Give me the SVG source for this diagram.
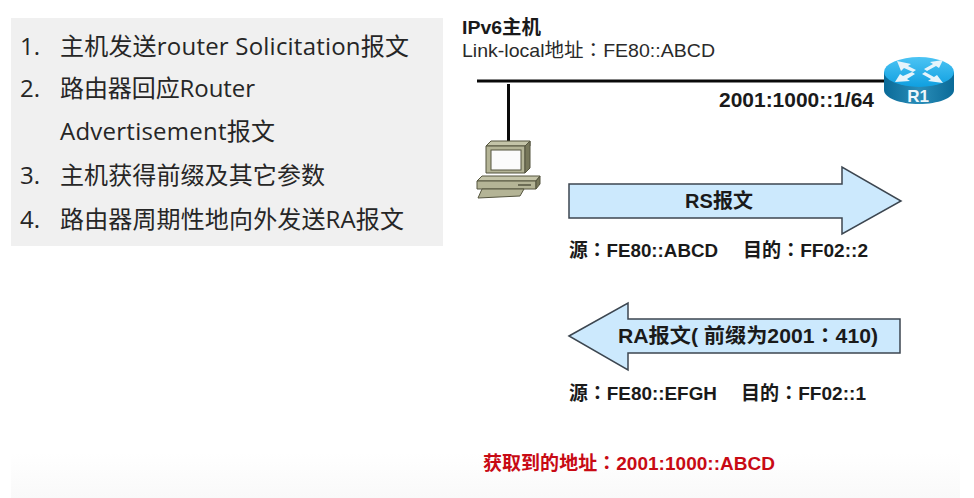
<svg xmlns="http://www.w3.org/2000/svg" width="974" height="498" viewBox="0 0 974 498">
<style>
text{font-family:"Liberation Sans","Noto Sans CJK SC",sans-serif}
.li{font-size:24px;fill:#262626;font-family:"Open Sans","Noto Sans CJK SC",sans-serif}
.b{font-size:20px;font-weight:bold;fill:#1a1a1a}
.c{font-family:"Noto Sans CJK TC",sans-serif}
.arrow{fill:#cce9fd;stroke:#3c4650;stroke-width:1.5}
.ln{stroke:#0a0a0a;stroke-width:3;fill:none}
.ra{fill:#e6f4fb}
</style>
<defs>
<linearGradient id="fade" x1="0" y1="0" x2="0" y2="1"><stop offset="0" stop-color="#ffffff"/><stop offset="1" stop-color="#f9f9f9"/></linearGradient>
<linearGradient id="rtop" x1="0" y1="0" x2="0" y2="1"><stop offset="0" stop-color="#4cc4f4"/><stop offset="1" stop-color="#0f9fe0"/></linearGradient>
<linearGradient id="rside" x1="0" y1="0" x2="1" y2="0"><stop offset="0" stop-color="#0a6a98"/><stop offset="0.5" stop-color="#2a8db8"/><stop offset="1" stop-color="#0a6a98"/></linearGradient>
</defs>
<rect x="11" y="453" width="949" height="45" fill="url(#fade)"/>
<g id="list">
<rect x="11" y="18" width="432" height="228" fill="#f0f0f0"/>
<text class="li" x="20" y="55">1.</text><text class="li" x="60" y="55" textLength="349">主机发送router Solicitation报文</text>
<text class="li" x="20" y="97">2.</text><text class="li" x="60" y="97" textLength="195">路由器回应Router</text>
<text class="li" x="60" y="140" textLength="215">Advertisement报文</text>
<text class="li" x="20" y="184">3.</text><text class="li" x="60" y="184" textLength="265">主机获得前缀及其它参数</text>
<text class="li" x="20" y="228">4.</text><text class="li" x="60" y="228" textLength="344">路由器周期性地向外发送RA报文</text>
</g>
<g id="connectors">
<path class="ln" d="M477 81H884"/>
<path class="ln" d="M508.500 84V142"/>
</g>
<g id="host-label">
<text x="462" y="34" font-size="19" font-weight="bold" fill="#1a1a1a" textLength="79" lengthAdjust="spacingAndGlyphs">IPv6主机</text>
<text x="462" y="57" font-size="19" fill="#2a2a2a" textLength="253" lengthAdjust="spacingAndGlyphs">Link-local地址<tspan class="c">：</tspan>FE80::ABCD</text>
</g>
<g id="host">
<path d="M486 146l5-5h39v5z" fill="#c4c4a8" stroke="#55553f"/>
<path d="M486 146h39v27h-39z" fill="#b4b496" stroke="#55553f"/>
<path d="M525 146l5-5v27l-5 5z" fill="#77775a" stroke="#55553f"/>
<rect x="491" y="150" width="30" height="20" fill="#fbfbfb" stroke="#55553f"/>
<path d="M477 181l5-5h58l-4 5z" fill="#c4c4a8" stroke="#55553f"/>
<path d="M477 181h59v8h-59z" fill="#b4b496" stroke="#55553f"/>
<path d="M536 181l4-5v8l-4 5z" fill="#77775a" stroke="#55553f"/>
<path d="M518 185h13" stroke="#55553f" stroke-width="1.500"/>
<path d="M482 189h42l-4 7-42 2z" fill="#b4b496" stroke="#55553f"/>
</g>
<g id="R1">
<path d="M884 72v18c0 8 16 14 35 14s35-6 35-14v-18z" fill="url(#rside)"/>
<ellipse cx="919" cy="72" rx="35" ry="15" fill="url(#rtop)"/>
<path class="ra" d="M897 61l14 3-3 2 8 4-3 2-9-4-3 3zM943 60l-4 8-3-2-9 5-3-2 9-5-3-2zM895 82l5-8 3 2 9-4 3 2-8 5 3 2zM943 83l-15-2 3-2-9-5 3-2 9 5 3-2z"/>
<text x="918" y="102" font-size="17" fill="#eef7fb" text-anchor="middle" font-weight="bold">R1</text>
</g>
<text class="b" x="719" y="107" textLength="155" lengthAdjust="spacingAndGlyphs">2001:1000::1/64</text>
<g id="rs-arrow">
<path class="arrow" d="M569 184H842V167L901 201L842 234V218H569Z"/>
<text class="b" x="685" y="208" textLength="68">RS报文</text>
</g>
<text class="b" x="569" y="257" style="font-size:19px" textLength="149" lengthAdjust="spacingAndGlyphs">源<tspan class="c">：</tspan>FE80::ABCD</text>
<text class="b" x="743" y="257" style="font-size:19px" textLength="125" lengthAdjust="spacingAndGlyphs">目的<tspan class="c">：</tspan>FF02::2</text>
<g id="ra-arrow">
<path class="arrow" d="M569 336L628 303V319H900V353H628V370Z"/>
<text class="b" x="618" y="343" textLength="260" lengthAdjust="spacingAndGlyphs">RA报文( 前缀为2001<tspan class="c">：</tspan>410)</text>
</g>
<text class="b" x="569" y="400" style="font-size:19px" textLength="148" lengthAdjust="spacingAndGlyphs">源<tspan class="c">：</tspan>FE80::EFGH</text>
<text class="b" x="741" y="400" style="font-size:19px" textLength="125" lengthAdjust="spacingAndGlyphs">目的<tspan class="c">：</tspan>FF02::1</text>
<text x="483" y="470" font-size="19" font-weight="bold" fill="#c80a14" textLength="292">获取到的地址<tspan class="c">：</tspan>2001:1000::ABCD</text>
</svg>
